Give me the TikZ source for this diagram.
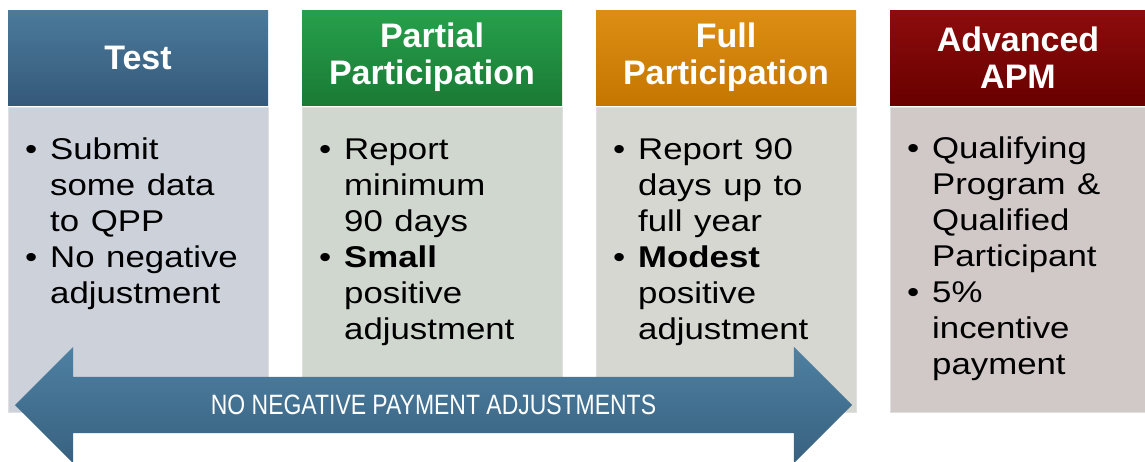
\documentclass[tikz,border=0pt]{standalone}
\usepackage{fontspec}
\setmainfont{Liberation Sans}
\usepackage{graphicx}
\usepackage{xcolor}
\usetikzlibrary{shapes.arrows}

\definecolor{testtop}{HTML}{4B7A9B}
\definecolor{testbot}{HTML}{35597A}
\definecolor{parttop}{HTML}{27A04B}
\definecolor{partbot}{HTML}{1A7A35}
\definecolor{fulltop}{HTML}{DC8E14}
\definecolor{fullbot}{HTML}{C47600}
\definecolor{advtop}{HTML}{8E0C0C}
\definecolor{advbot}{HTML}{680000}
\definecolor{testbg}{HTML}{CCD1DA}
\definecolor{partbg}{HTML}{CFD7CF}
\definecolor{fullbg}{HTML}{D6D7D1}
\definecolor{advbg}{HTML}{D1C8C8}
\definecolor{arrtop}{HTML}{4E80A2}
\definecolor{arrbot}{HTML}{38617F}

\newcommand{\bul}{\par\hangindent=21.5pt\hangafter=1\noindent\strut\makebox[21.5pt][l]{\textbullet}}

\tikzset{
  hdr/.style={minimum width=260pt, minimum height=95pt, inner sep=0pt,
    align=center, text=white, font=\fontsize{34}{37}\selectfont\bfseries},
  body/.style={anchor=north west, minimum width=260pt, minimum height=305pt,
    inner sep=0pt, draw=black!12, line width=0.8pt},
  blist/.style={anchor=north west, inner sep=0pt, text width=200pt,
    xscale=1.16, font=\fontsize{30}{36}\selectfont\raggedright},
}

\begin{document}
\begin{tikzpicture}[x=1pt, y=-1pt]
    \useasboundingbox (0, 0) rectangle (1145, 461);
    % body boxes
    \path (8, 107) node [body, fill=testbg] (testbd) {};
    \path (302, 107) node [body, fill=partbg] (partbd) {};
    \path (596, 107) node [body, fill=fullbg] (fullbd) {};
    \path (890, 107) node [body, fill=advbg] (advbd) {};
    % headers
    \path (138, 57.5) node [hdr, top color=testtop, bottom color=testbot] (testhd) {Test};
    \path (432, 57.5) node [hdr, top color=parttop, bottom color=partbot] (parthd) {Partial\\Participation};
    \path (726, 57.5) node [hdr, top color=fulltop, bottom color=fullbot] (fullhd) {Full\\Participation};
    \path (1018, 57.5) node [hdr, minimum width=256pt, top color=advtop, bottom color=advbot] (advhd) {Advanced\\APM};
    % bullet texts
    \path (25, 122.8) node [blist] (testtx) {\bul Submit\newline some data\newline to QPP \bul No negative\newline adjustment\par};
    \path (319, 122.8) node [blist] (parttx) {\bul Report\newline minimum\newline 90 days \bul \textbf{Small}\newline positive\newline adjustment\par};
    \path (613, 122.8) node [blist] (fulltx) {\bul Report 90\newline days up to\newline full year \bul \textbf{Modest}\newline positive\newline adjustment\par};
    \path (907, 121.8) node [blist] (advtx) {\bul Qualifying\newline Program \&\newline Qualified\newline Participant \bul 5\%\newline incentive\newline payment\par};
    % arrow
    \path (433.5, 405) node [shape=double arrow, minimum height=837pt, inner xsep=0pt, inner ysep=28pt,
        double arrow head extend=30pt, top color=arrtop, bottom color=arrbot] (nopay) {};
    \path (nopay.center) node [text=white, font=\fontsize{28}{30}\selectfont] (nopaytx)
        {\scalebox{0.82}[1]{NO NEGATIVE PAYMENT ADJUSTMENTS}};
\end{tikzpicture}
\end{document}
